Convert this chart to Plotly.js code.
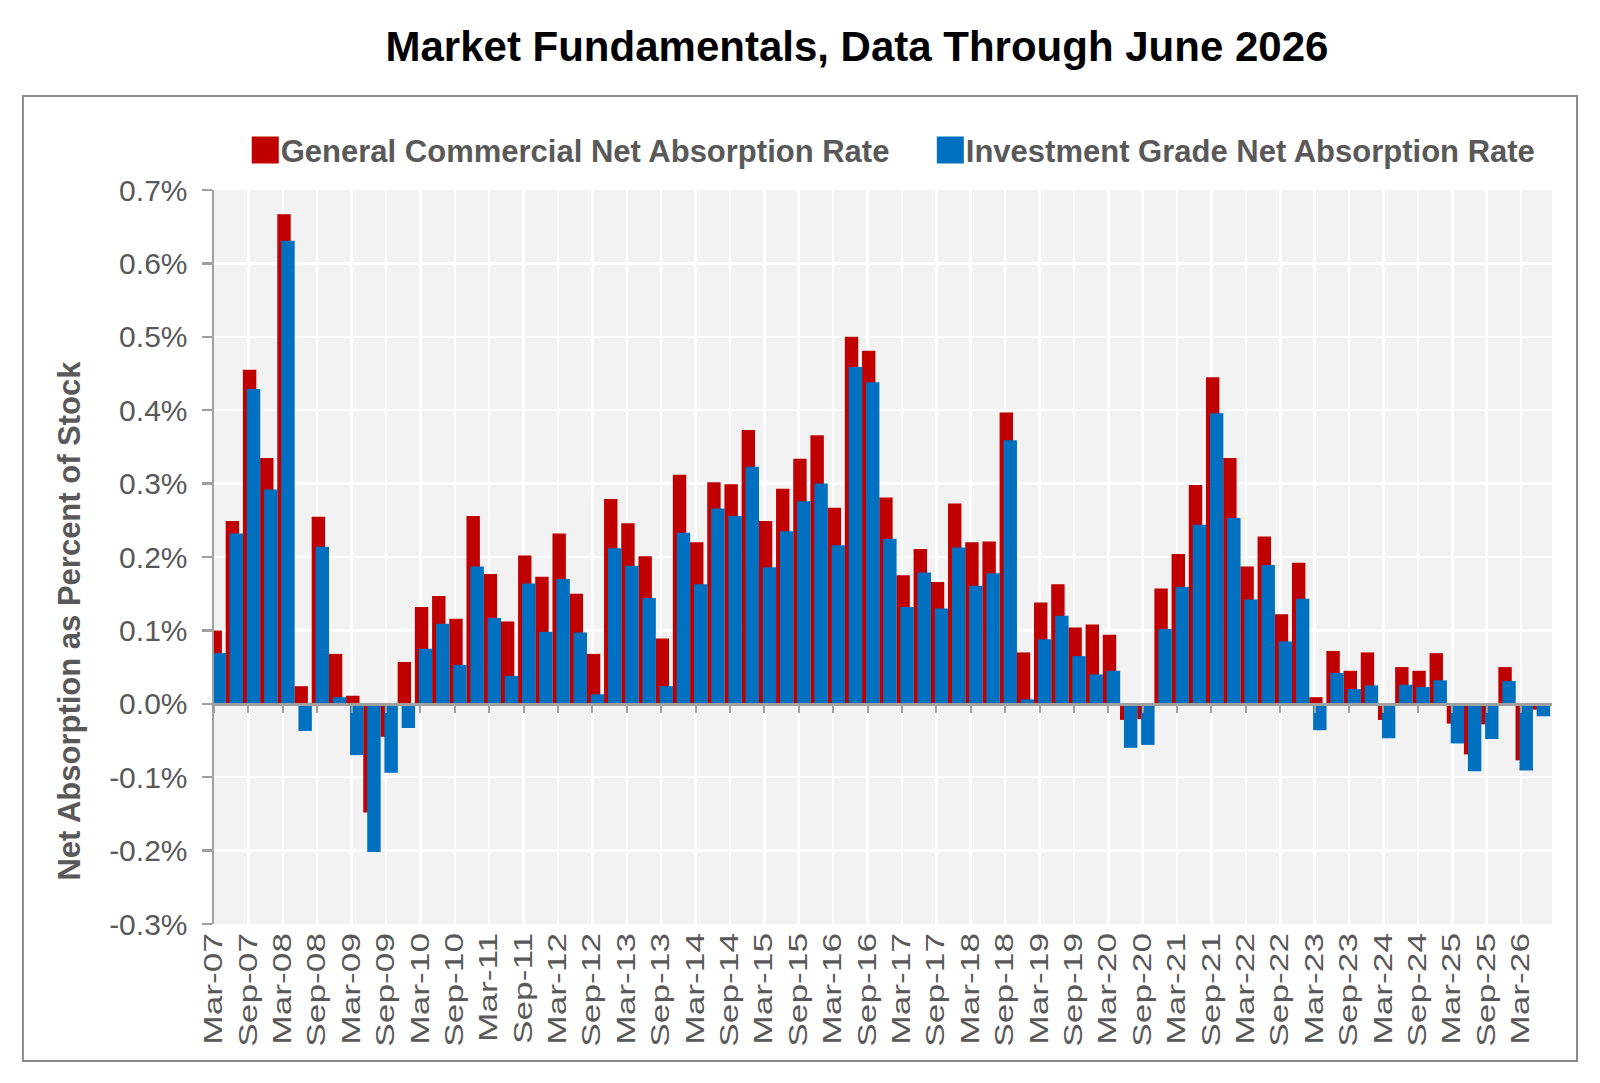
<!DOCTYPE html>
<html>
<head>
<meta charset="utf-8">
<script src="https://cdn.plot.ly/plotly-3.0.1.min.js"></script>
<style>
html,body{margin:0;padding:0;background:#ffffff;}
#chart{width:1600px;height:1083px;}
</style>
</head>
<body>
<div id="chart"></div>
<script>
// Quarterly categories (Mar-07 .. Jun-26)
const quarters = [
  "Mar-07","Jun-07","Sep-07","Dec-07","Mar-08","Jun-08","Sep-08","Dec-08",
  "Mar-09","Jun-09","Sep-09","Dec-09","Mar-10","Jun-10","Sep-10","Dec-10",
  "Mar-11","Jun-11","Sep-11","Dec-11","Mar-12","Jun-12","Sep-12","Dec-12",
  "Mar-13","Jun-13","Sep-13","Dec-13","Mar-14","Jun-14","Sep-14","Dec-14",
  "Mar-15","Jun-15","Sep-15","Dec-15","Mar-16","Jun-16","Sep-16","Dec-16",
  "Mar-17","Jun-17","Sep-17","Dec-17","Mar-18","Jun-18","Sep-18","Dec-18",
  "Mar-19","Jun-19","Sep-19","Dec-19","Mar-20","Jun-20","Sep-20","Dec-20",
  "Mar-21","Jun-21","Sep-21","Dec-21","Mar-22","Jun-22","Sep-22","Dec-22",
  "Mar-23","Jun-23","Sep-23","Dec-23","Mar-24","Jun-24","Sep-24","Dec-24",
  "Mar-25","Jun-25","Sep-25","Dec-25","Mar-26","Jun-26"
];

// Category-axis tick labels (every second quarter)
const tickLabels = [
  "Mar-07","Sep-07","Mar-08","Sep-08","Mar-09","Sep-09","Mar-10","Sep-10",
  "Mar-11","Sep-11","Mar-12","Sep-12","Mar-13","Sep-13","Mar-14","Sep-14",
  "Mar-15","Sep-15","Mar-16","Sep-16","Mar-17","Sep-17","Mar-18","Sep-18",
  "Mar-19","Sep-19","Mar-20","Sep-20","Mar-21","Sep-21","Mar-22","Sep-22",
  "Mar-23","Sep-23","Mar-24","Sep-24","Mar-25","Sep-25","Mar-26"
];

// Value-axis tick labels
const yTickLabels = ["-0.3%","-0.2%","-0.1%","0.0%","0.1%","0.2%","0.3%","0.4%","0.5%","0.6%","0.7%"];

// General Commercial Net Absorption Rate (% of stock)
const generalCommercial = [
  0.100, 0.249, 0.455, 0.335, 0.667, 0.024, 0.255, 0.068,
  0.011,-0.148,-0.045, 0.057, 0.132, 0.147, 0.116, 0.256,
  0.177, 0.112, 0.202, 0.173, 0.232, 0.150, 0.068, 0.279,
  0.246, 0.201, 0.089, 0.312, 0.220, 0.302, 0.299, 0.373,
  0.249, 0.293, 0.334, 0.366, 0.267, 0.500, 0.481, 0.281,
  0.175, 0.211, 0.166, 0.273, 0.220, 0.221, 0.397, 0.070,
  0.138, 0.163, 0.104, 0.108, 0.094,-0.022,-0.021, 0.157,
  0.204, 0.298, 0.445, 0.335, 0.187, 0.228, 0.122, 0.192,
  0.009, 0.072, 0.045, 0.070,-0.022, 0.050, 0.045, 0.069,
 -0.027,-0.069,-0.028, 0.050,-0.077,-0.008
];

// Investment Grade Net Absorption Rate (% of stock)
const investmentGrade = [
  0.069, 0.232, 0.429, 0.292, 0.631,-0.037, 0.214, 0.009,
 -0.070,-0.202,-0.094,-0.033, 0.075, 0.109, 0.053, 0.187,
  0.117, 0.038, 0.164, 0.098, 0.170, 0.097, 0.013, 0.212,
  0.188, 0.144, 0.024, 0.233, 0.163, 0.266, 0.256, 0.323,
  0.186, 0.235, 0.276, 0.300, 0.216, 0.459, 0.438, 0.225,
  0.132, 0.179, 0.130, 0.213, 0.161, 0.178, 0.359, 0.006,
  0.088, 0.120, 0.065, 0.040, 0.045,-0.060,-0.056, 0.102,
  0.159, 0.244, 0.396, 0.253, 0.142, 0.189, 0.085, 0.143,
 -0.036, 0.042, 0.020, 0.025,-0.047, 0.026, 0.023, 0.032,
 -0.054,-0.092,-0.048, 0.031,-0.091,-0.017
];

const seriesNames = ["General Commercial Net Absorption Rate", "Investment Grade Net Absorption Rate"];
const seriesColors = ["#C00000", "#0070C0"];

const yRange = [-0.3, 0.7];
const xRange = [0, quarters.length - 0.2];
const yTickVals = yTickLabels.map(s => parseFloat(s));

const FONT = '"Liberation Sans", Arial, Helvetica, sans-serif';
const AXIS_GRAY = '#a0a0a0';

const traces = [
  {
    type: 'bar', name: seriesNames[0], x: quarters, y: generalCommercial,
    marker: {color: seriesColors[0], line: {width: 0}},
    offset: -0.32, width: 0.78, xaxis: 'x', yaxis: 'y', legend: 'legend'
  },
  {
    type: 'bar', name: seriesNames[1], x: quarters, y: investmentGrade,
    marker: {color: seriesColors[1], line: {width: 0}},
    offset: -0.09, width: 0.78, xaxis: 'x2', yaxis: 'y', legend: 'legend2'
  }
];

const legendStyle = {
  orientation: 'h', xanchor: 'left', yanchor: 'middle', y: 1.054,
  font: {family: FONT, size: 31, weight: 'bold', color: '#595959'},
  bgcolor: 'rgba(0,0,0,0)'
};

const layout = {
  width: 1600, height: 1083,
  margin: {l: 214, r: 48, t: 190, b: 159, autoexpand: false},
  paper_bgcolor: '#ffffff',
  plot_bgcolor: '#f2f2f2',
  font: {family: FONT, color: '#595959'},
  title: {
    text: 'Market Fundamentals, Data Through June 2026',
    font: {family: FONT, size: 42, color: '#000000', weight: 'bold'},
    xref: 'container', x: 0.5356, xanchor: 'center',
    yref: 'container', y: 0.9575, yanchor: 'middle'
  },
  barmode: 'overlay',
  showlegend: true,
  hovermode: false,
  legend: Object.assign({}, legendStyle, {x: 0.02}),
  legend2: Object.assign({}, legendStyle, {x: 0.532}),
  xaxis: {
    type: 'category', range: xRange,
    tickmode: 'array', tickvals: tickLabels, ticktext: tickLabels,
    tickangle: -90, tickfont: {family: FONT, size: 25, color: '#595959'},
    showgrid: true, gridcolor: '#ffffff', gridwidth: 2.5,
    showline: false, ticks: '', ticklabelstandoff: 3,
    zeroline: false, fixedrange: true, automargin: false
  },
  xaxis2: {
    type: 'category', range: xRange, overlaying: 'x', anchor: 'free',
    position: (0 - yRange[0]) / (yRange[1] - yRange[0]), side: 'bottom',
    showline: true, linecolor: AXIS_GRAY, linewidth: 3, layer: 'above traces',
    ticks: 'outside', ticklen: 7, tickwidth: 2, tickcolor: AXIS_GRAY,
    tickmode: 'array', tickvals: tickLabels, showticklabels: false,
    showgrid: false, zeroline: false, fixedrange: true
  },
  yaxis: {
    range: yRange, tickmode: 'array', tickvals: yTickVals, ticktext: yTickLabels,
    tickfont: {family: FONT, size: 30, color: '#595959'},
    showline: true, linecolor: AXIS_GRAY, linewidth: 2.5,
    ticks: 'outside', ticklen: 10, tickwidth: 2.5, tickcolor: AXIS_GRAY,
    ticklabelstandoff: 8,
    gridcolor: '#ffffff', gridwidth: 2.5, zeroline: false, fixedrange: true,
    automargin: false,
    title: {
      text: 'Net Absorption as Percent of Stock',
      font: {family: FONT, size: 31, weight: 'bold', color: '#595959'},
      standoff: 20
    }
  },
  shapes: [{
    type: 'rect', xref: 'paper', yref: 'paper',
    x0: -0.1428, x1: 1.0187, y0: -0.1867, y1: 1.1281,
    line: {color: '#8c8c8c', width: 2}, fillcolor: 'rgba(0,0,0,0)', layer: 'below'
  }]
};

const gd = document.getElementById('chart');
Plotly.newPlot(gd, traces, layout, {staticPlot: true, displayModeBar: false}).then(() => {
  // enlarge legend swatches to the reference's square size, just before the text
  gd.querySelectorAll('.legendpoints path').forEach(p => {
    const tr = p.getAttribute('transform') || '';
    p.setAttribute('transform', tr + ' translate(4.5,0) scale(2.25)');
  });
  // the reference's category labels are drawn elongated along their reading direction
  gd.querySelectorAll('.xaxislayer-above .xtick text').forEach(t => {
    const L = t.getComputedTextLength();
    if (L > 0) {
      t.setAttribute('textLength', (L * 1.41).toFixed(1));
      t.setAttribute('lengthAdjust', 'spacingAndGlyphs');
    }
  });
  // the reference's value-axis title sits lower than the plot centre
  const yt = gd.querySelector('.g-ytitle');
  if (yt) yt.setAttribute('transform', 'translate(0,64)');
});
</script>
</body>
</html>
